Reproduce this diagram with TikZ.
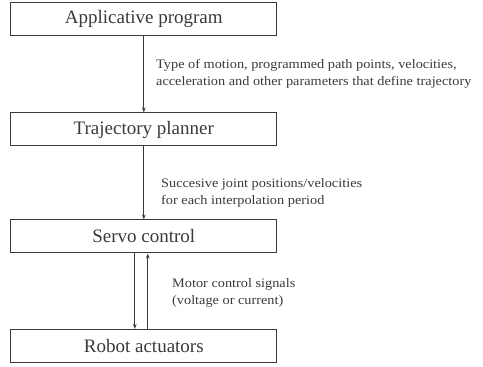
\documentclass[tikz,border=0pt]{standalone}
\usepackage{fontspec}
\setmainfont{Liberation Serif}
\newfontfamily\notefont[FakeStretch=1.1]{Liberation Serif}
\usepackage{tikz}
\usetikzlibrary{arrows.meta, positioning}
\definecolor{inkgray}{HTML}{3A3A3A}

\begin{document}
\begin{tikzpicture}[x=1pt, y=1pt, >={Stealth[length=5pt, width=3.5pt]}, draw=inkgray, text=inkgray,
    block/.style={draw=inkgray, line width=1pt, minimum width=266pt, minimum height=33pt, inner sep=0pt, font=\fontsize{19}{22}\selectfont},
    note/.style={anchor=west, align=left, inner sep=0pt, font=\notefont\fontsize{13}{17}\selectfont}]
        \useasboundingbox (0, 0) rectangle (483, 367);

        % Nodes
        \node[block] (prog) at (143.8, 348) {Applicative program};
        \node[block] (plan) at (143.8, 237.5) {Trajectory planner};
        \node[block] (servo) at (143.8, 130.5) {Servo control};
        \node[block] (act) at (143.8, 21) {Robot actuators};

        % Labels
        \node[note] (progtxt) at (156, 293) {Type of motion, programmed path points, velocities,\\acceleration and other parameters that define trajectory};
        \node[note] (plantxt) at (161, 174) {Succesive joint positions/velocities\\for each interpolation period};
        \node[note] (servotxt) at (172, 74) {Motor control signals\\(voltage or current)};

        % Directed edges
        \draw[->, line width=0.8pt] (prog) -- (plan);
        \draw[->, line width=0.8pt] (plan) -- (servo);
        \draw[->, line width=0.8pt] ([xshift=-9pt]servo.south) -- ([xshift=-9pt]act.north);
        \draw[->, line width=0.8pt] ([xshift=4pt]act.north) -- ([xshift=4pt]servo.south);
    \end{tikzpicture}
\end{document}
